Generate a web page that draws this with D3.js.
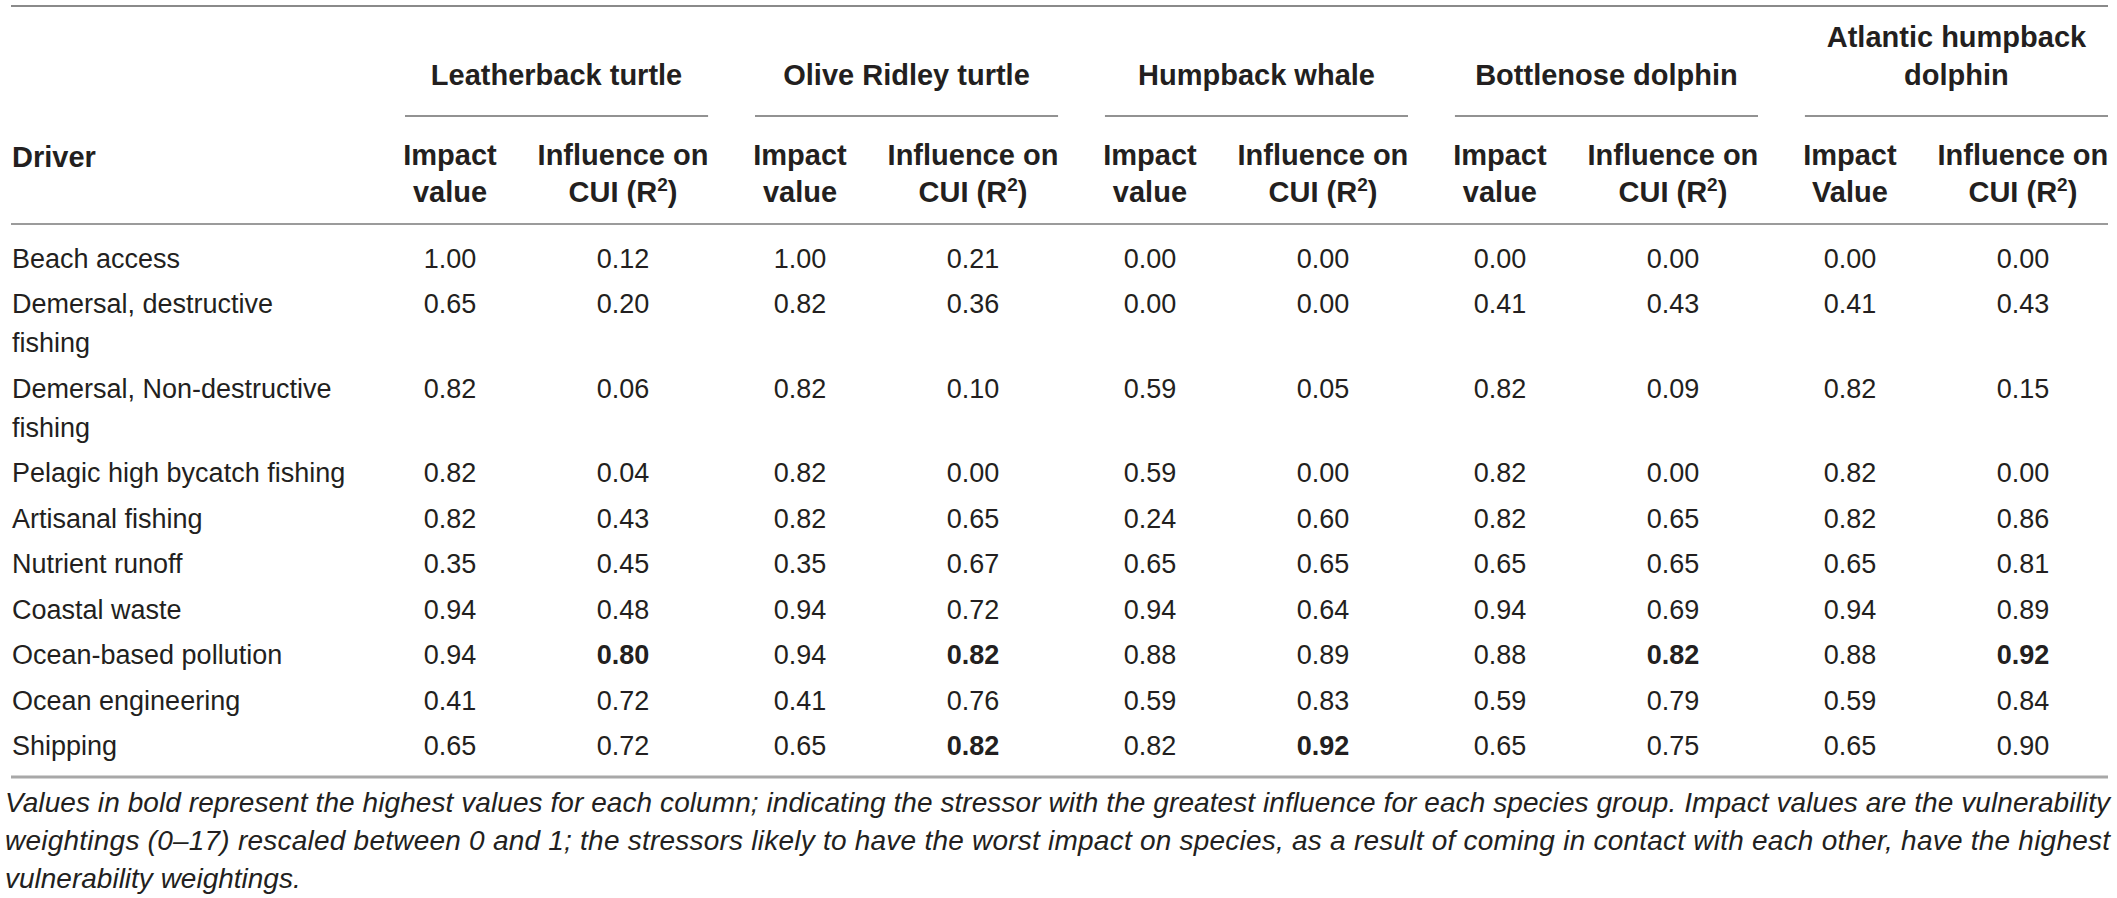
<!DOCTYPE html>
<html>
<head>
<meta charset="utf-8">
<style>
    body { margin: 0; background: #fff; }
    svg { display: block; font-family: "Liberation Sans", Arial, Helvetica, sans-serif; }
</style>
</head>
<body>
<svg id="container" width="2117" height="898"></svg>

<script src="https://d3js.org/d3.v7.min.js"></script>
<script>
    // table content
    let drivers = ["Beach access", "Demersal, destructive fishing", "Demersal, Non-destructive fishing",
        "Pelagic high bycatch fishing", "Artisanal fishing", "Nutrient runoff", "Coastal waste",
        "Ocean-based pollution", "Ocean engineering", "Shipping"]

    let species = ["Leatherback turtle", "Olive Ridley turtle", "Humpback whale", "Bottlenose dolphin", "Atlantic humpback dolphin"]
    let speciesLines = [["Leatherback turtle"], ["Olive Ridley turtle"], ["Humpback whale"], ["Bottlenose dolphin"], ["Atlantic humpback", "dolphin"]]
    let impactHeads = [["Impact", "value"], ["Impact", "value"], ["Impact", "value"], ["Impact", "value"], ["Impact", "Value"]]

    let leatherbackImpact = [1.00, 0.65, 0.82, 0.82, 0.82, 0.35, 0.94, 0.94, 0.41, 0.65]
    let leatherbackInfluence = [0.12, 0.20, 0.06, 0.04, 0.43, 0.45, 0.48, 0.80, 0.72, 0.72]
    let oliveImpact = [1.00, 0.82, 0.82, 0.82, 0.82, 0.35, 0.94, 0.94, 0.41, 0.65]
    let oliveInfluence = [0.21, 0.36, 0.10, 0.00, 0.65, 0.67, 0.72, 0.82, 0.76, 0.82]
    let humpbackImpact = [0.00, 0.00, 0.59, 0.59, 0.24, 0.65, 0.94, 0.88, 0.59, 0.82]
    let humpbackInfluence = [0.00, 0.00, 0.05, 0.00, 0.60, 0.65, 0.64, 0.89, 0.83, 0.92]
    let bottlenoseImpact = [0.00, 0.41, 0.82, 0.82, 0.82, 0.65, 0.94, 0.88, 0.59, 0.65]
    let bottlenoseInfluence = [0.00, 0.43, 0.09, 0.00, 0.65, 0.65, 0.69, 0.82, 0.79, 0.75]
    let atlanticImpact = [0.00, 0.41, 0.82, 0.82, 0.82, 0.65, 0.94, 0.88, 0.59, 0.65]
    let atlanticInfluence = [0.00, 0.43, 0.15, 0.00, 0.86, 0.81, 0.89, 0.92, 0.84, 0.90]

    let captionLines = [
        "Values in bold represent the highest values for each column; indicating the stressor with the greatest influence for each species group. Impact values are the vulnerability",
        "weightings (0\u201317) rescaled between 0 and 1; the stressors likely to have the worst impact on species, as a result of coming in contact with each other, have the highest",
        "vulnerability weightings."
    ]

    let impacts = [leatherbackImpact, oliveImpact, humpbackImpact, bottlenoseImpact, atlanticImpact]
    let influences = [leatherbackInfluence, oliveInfluence, humpbackInfluence, bottlenoseInfluence, atlanticInfluence]

    let svg = d3.select("#container")
    let ink = "#231f20"
    let bodySize = 27
    let headSize = 29

    // species groups are evenly spaced
    let groupX = d3.scaleBand()
        .domain(species)
        .range([405, 2108])
        .paddingInner(0.134)
    let subX = d3.scaleOrdinal()
        .domain(["impact", "influence"])
        .range([45, 218])

    let left = 11, right = 2108

    function rule(y, x1, x2, color, w) {
        svg.append("line")
            .attr("x1", x1).attr("x2", x2)
            .attr("y1", y).attr("y2", y)
            .attr("stroke", color)
            .attr("stroke-width", w)
    }

    // wrap driver labels to the first column width
    let measure = svg.append("text").attr("font-size", bodySize)
    function wrap(label, maxW) {
        let words = label.split(" "), lines = [], cur = ""
        words.forEach(w => {
            let test = cur ? cur + " " + w : w
            measure.text(test)
            if (measure.node().getComputedTextLength() > maxW && cur) {
                lines.push(cur)
                cur = w
            } else {
                cur = test
            }
        })
        lines.push(cur)
        return lines
    }
    let driverLines = drivers.map(d => wrap(d, 340))
    measure.remove()

    // row positions: one pitch per row plus extra for wrapped lines
    let pitch = 45.5, linePitch = 39
    let rowY = []
    let acc = 0
    driverLines.forEach(lines => {
        rowY.push(acc)
        acc += pitch + (lines.length - 1) * linePitch
    })
    let y = d3.scaleLinear().domain([0, 1]).range([258, 259])

    // header
    rule(6, left, right, "#8a8a8a", 2)

    let head = svg.append("g").attr("fill", ink).attr("font-weight", "bold").attr("font-size", headSize)

    speciesLines.forEach((lines, i) => {
        let cx = groupX(species[i]) + groupX.bandwidth() / 2
        let startY = lines.length === 1 ? 75 : 37
        lines.forEach((t, j) => {
            head.append("text")
                .attr("x", cx)
                .attr("y", startY + j * 38 + 10.4)
                .attr("text-anchor", "middle")
                .text(t)
        })
        rule(116, groupX(species[i]), groupX(species[i]) + groupX.bandwidth(), "#6e6e6e", 1.5)

        impactHeads[i].forEach((t, j) => {
            head.append("text")
                .attr("x", groupX(species[i]) + subX("impact"))
                .attr("y", 155 + j * 37 + 10.4)
                .attr("text-anchor", "middle")
                .text(t)
        })
        let ix = groupX(species[i]) + subX("influence")
        head.append("text")
            .attr("x", ix)
            .attr("y", 155 + 10.4)
            .attr("text-anchor", "middle")
            .text("Influence on")
        let cui = head.append("text")
            .attr("x", ix)
            .attr("y", 192 + 10.4)
            .attr("text-anchor", "middle")
        cui.append("tspan").text("CUI (R")
        cui.append("tspan").attr("font-size", 19).attr("dy", -11).text("2")
        cui.append("tspan").attr("dy", 11).text(")")
    })

    head.append("text")
        .attr("x", 12)
        .attr("y", 157 + 10.4)
        .text("Driver")

    rule(224, left, right, "#7a7a7a", 1.5)

    // body rows
    let bodyG = svg.append("g").attr("fill", ink).attr("font-size", bodySize)

    driverLines.forEach((lines, r) => {
        lines.forEach((t, j) => {
            bodyG.append("text")
                .attr("x", 12)
                .attr("y", y(rowY[r]) + j * linePitch + 9.7)
                .text(t)
        })
    })

    species.forEach((s, i) => {
        let maxInf = d3.max(influences[i])
        bodyG.selectAll(null)
            .data(impacts[i])
            .enter()
            .append("text")
                .attr("x", groupX(s) + subX("impact"))
                .attr("y", (d, r) => y(rowY[r]) + 9.7)
                .attr("text-anchor", "middle")
                .text(d => d3.format(".2f")(d))
        bodyG.selectAll(null)
            .data(influences[i])
            .enter()
            .append("text")
                .attr("x", groupX(s) + subX("influence"))
                .attr("y", (d, r) => y(rowY[r]) + 9.7)
                .attr("text-anchor", "middle")
                .attr("font-weight", d => d === maxInf ? "bold" : "normal")
                .text(d => d3.format(".2f")(d))
    })

    rule(777, left, right, "#a8a8a8", 3)

    // caption
    let cap = svg.append("g").attr("fill", ink).attr("font-size", 28).attr("font-style", "italic")
    captionLines.forEach((t, i) => {
        let txt = cap.append("text")
            .attr("x", 5)
            .attr("y", 802 + i * 38 + 10)
            .text(t)
        if (i < captionLines.length - 1) {
            txt.attr("textLength", 2105).attr("lengthAdjust", "spacing")
        }
    })
</script>
</body>
</html>
